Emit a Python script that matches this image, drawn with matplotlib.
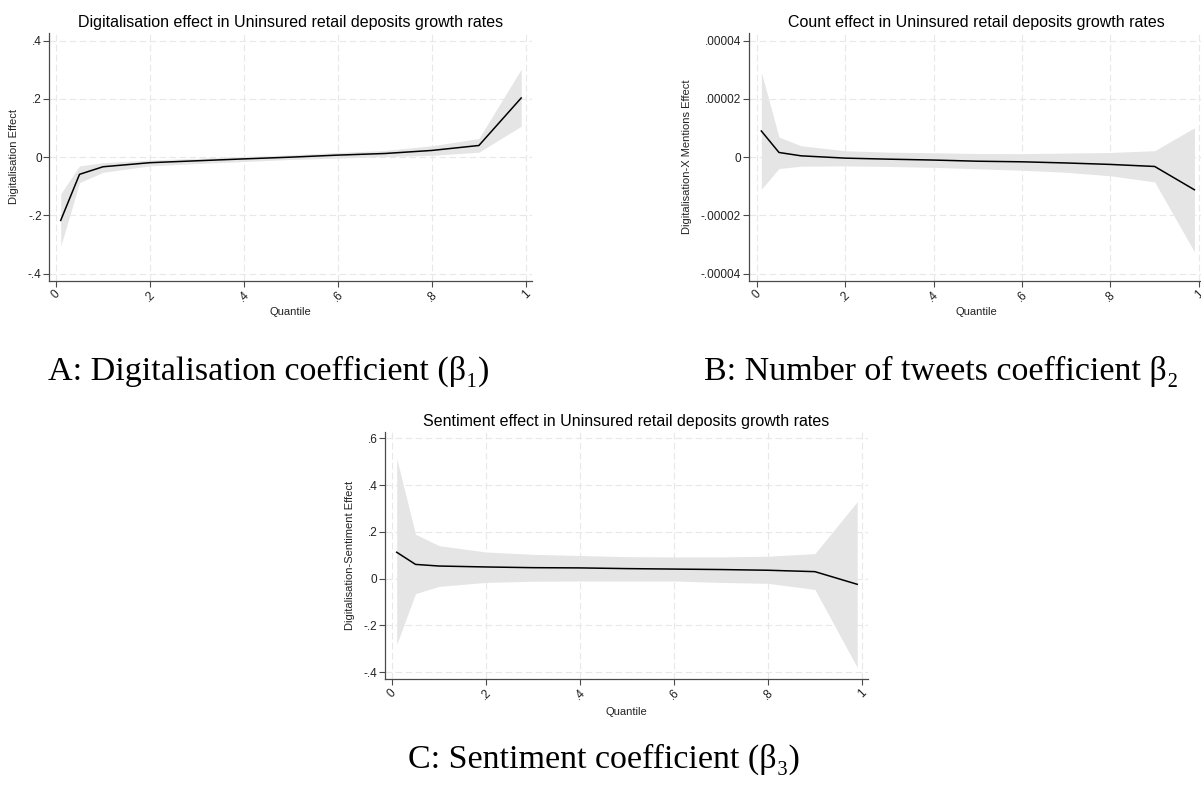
import matplotlib
matplotlib.use("Agg")
import matplotlib.pyplot as plt
import numpy as np

plt.rcParams['font.family'] = ['Liberation Sans', 'DejaVu Sans']

# ---------------- data ----------------
quantiles = [0.01, 0.05, 0.1, 0.2, 0.3, 0.4, 0.5, 0.6, 0.7, 0.8, 0.9, 0.99]

dig_coef = [-0.217, -0.059, -0.033, -0.019, -0.0125, -0.006, 0.0, 0.007, 0.0125, 0.023, 0.040, 0.203]
dig_lo   = [-0.306, -0.0875, -0.052, -0.030, -0.022, -0.015, -0.008, -0.003, 0.002, 0.006, 0.017, 0.106]
dig_hi   = [-0.126, -0.030, -0.019, -0.010, -0.004, 0.002, 0.008, 0.016, 0.023, 0.039, 0.064, 0.302]

cnt_coef = [8.98e-6, 1.6e-6, 4.5e-7, -3.4e-7, -7.0e-7, -1.0e-6, -1.4e-6, -1.6e-6, -2.0e-6, -2.5e-6, -3.2e-6, -1.12e-5]
cnt_lo   = [-1.10e-5, -3.9e-6, -3.1e-6, -3.0e-6, -3.2e-6, -3.5e-6, -4.0e-6, -4.5e-6, -5.2e-6, -6.4e-6, -8.5e-6, -3.25e-5]
cnt_hi   = [2.91e-5, 6.9e-6, 3.9e-6, 2.2e-6, 1.7e-6, 1.5e-6, 1.25e-6, 1.2e-6, 1.4e-6, 1.6e-6, 2.2e-6, 1.01e-5]

sen_coef = [0.113, 0.061, 0.054, 0.050, 0.047, 0.046, 0.043, 0.041, 0.039, 0.036, 0.030, -0.024]
sen_lo   = [-0.281, -0.064, -0.033, -0.016, -0.011, -0.010, -0.010, -0.010, -0.016, -0.020, -0.046, -0.379]
sen_hi   = [0.514, 0.190, 0.141, 0.114, 0.104, 0.099, 0.094, 0.093, 0.093, 0.096, 0.107, 0.329]

x_ticks = [0, 0.2, 0.4, 0.6, 0.8, 1.0]
x_ticklabels = ["0", ".2", ".4", ".6", ".8", "1"]

a_yticks = [-0.4, -0.2, 0, 0.2, 0.4]
a_yticklabels = ["-.4", "-.2", "0", ".2", ".4"]
b_yticks = [-4e-5, -2e-5, 0, 2e-5, 4e-5]
b_yticklabels = ["-.00004", "-.00002", "0", ".00002", ".00004"]
c_yticks = [-0.4, -0.2, 0, 0.2, 0.4, 0.6]
c_yticklabels = ["-.4", "-.2", "0", ".2", ".4", ".6"]

titles = ["Digitalisation effect in Uninsured retail deposits growth rates",
          "Count effect in Uninsured retail deposits growth rates",
          "Sentiment effect in Uninsured retail deposits growth rates"]
ylabels = ["Digitalisation Effect", "Digitalisation-X Mentions Effect",
           "Digitalisation-Sentiment Effect"]
captions = ["A: Digitalisation coefficient (β\u2081)",
            "B: Number of tweets coefficient β\u2082",
            "C: Sentiment coefficient (β\u2083)"]

# ---------------- figure ----------------
W, H = 1201, 789
fig = plt.figure(figsize=(W / 100, H / 100), dpi=100)
fig.patch.set_facecolor('white')

def px_axes(left, right, top, bottom):
    return fig.add_axes([left / W, 1 - bottom / H, (right - left) / W, (bottom - top) / H])

axA = px_axes(49.3, 532, 33, 280.7)
axB = px_axes(748.5, 1204.6, 33, 280.7)
axC = px_axes(385.1, 868, 431.7, 679.3)

spine_col = '#4a4a4a'
grid_col = '#e8e8e8'
fill_col = '#e5e5e5'

def style(ax, coef, lo, hi, yticks, yticklabels, ylim, xlim, title, ylabel, ylab_x, xlab_y):
    ax.fill_between(quantiles, lo, hi, color=fill_col, linewidth=0, zorder=1)
    ax.plot(quantiles, coef, color='black', linewidth=1.1, zorder=3)
    ax.set_xlim(*xlim)
    ax.set_ylim(*ylim)
    ax.set_xticks(x_ticks)
    ax.set_xticklabels(x_ticklabels, rotation=45, ha='center', fontsize=8.5, color='#222222')
    ax.set_yticks(yticks)
    ax.set_yticklabels(yticklabels, fontsize=8.5, color='#222222')
    for s in ['top', 'right']:
        ax.spines[s].set_visible(False)
    for s in ['left', 'bottom']:
        ax.spines[s].set_color(spine_col)
        ax.spines[s].set_linewidth(0.9)
    ax.tick_params(axis='both', direction='out', length=4, width=0.8, color=spine_col, pad=1.5)
    ax.grid(True, color=grid_col, linewidth=0.8, linestyle=(0, (6, 3)), zorder=0)
    ax.set_axisbelow(True)
    ax.set_title(title, fontsize=11.5, color='black', pad=4)
    ax.set_ylabel(ylabel, fontsize=8, color='#222222')
    ax.yaxis.set_label_coords(ylab_x, 0.5)
    ax.set_xlabel("Quantile", fontsize=8, color='#222222')
    ax.xaxis.set_label_coords(0.5, xlab_y)

style(axA, dig_coef, dig_lo, dig_hi, a_yticks, a_yticklabels, (-0.424, 0.426), (-0.0143, 1.013),
      titles[0], ylabels[0], -0.063, -0.106)
style(axB, cnt_coef, cnt_lo, cnt_hi, b_yticks, b_yticklabels, (-4.24e-5, 4.26e-5), (-0.019, 1.013),
      titles[1], ylabels[1], -0.124, -0.106)
style(axC, sen_coef, sen_lo, sen_hi, c_yticks, c_yticklabels, (-0.430, 0.628), (-0.0147, 1.013),
      titles[2], ylabels[2], -0.063, -0.112)

cap_font = ['Liberation Serif', 'DejaVu Serif']
fig.text(268.5 / W, 1 - 380 / H, captions[0], fontsize=24.5, family=cap_font, ha='center', va='baseline')
fig.text(941 / W, 1 - 380 / H, captions[1], fontsize=24.5, family=cap_font, ha='center', va='baseline')
fig.text(604 / W, 1 - 768 / H, captions[2], fontsize=24.5, family=cap_font, ha='center', va='baseline')

fig.savefig("out.png", dpi=100, facecolor='white')
